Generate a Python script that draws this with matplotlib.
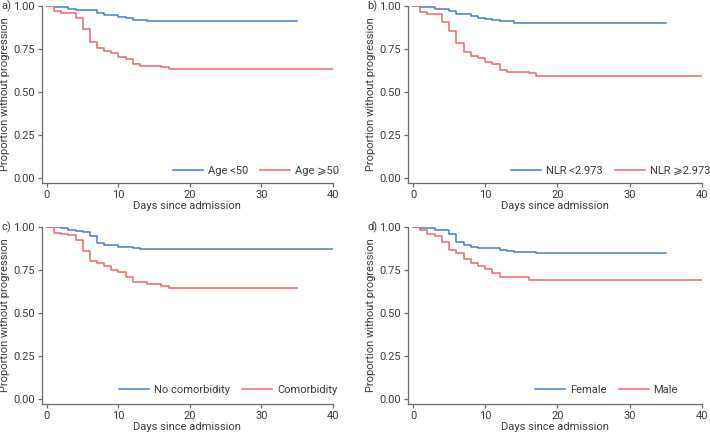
import matplotlib
matplotlib.use("Agg")
import matplotlib.pyplot as plt
from matplotlib import font_manager

# ---------------- data ----------------
# panel a) Age
a_lo_t = [0, 1, 3, 4, 7, 8, 10, 11, 12, 14, 35]
a_lo_s = [1.0, 0.992, 0.983, 0.975, 0.957, 0.946, 0.938, 0.930, 0.921, 0.911, 0.911]
a_hi_t = [0, 1, 2, 4, 5, 6, 7, 8, 9, 10, 11, 12, 13, 16, 17, 40]
a_hi_s = [1.0, 0.973, 0.957, 0.928, 0.864, 0.793, 0.758, 0.738, 0.725, 0.705, 0.690,
          0.661, 0.653, 0.643, 0.636, 0.636]
a_labels = ["Age <50", "Age \u2a7e50"]

# panel b) NLR
b_lo_t = [0, 1, 3, 5, 6, 8, 9, 10, 11, 12, 14, 35]
b_lo_s = [1.0, 0.992, 0.984, 0.969, 0.953, 0.944, 0.932, 0.924, 0.918, 0.911, 0.901, 0.901]
b_hi_t = [0, 1, 2, 4, 5, 6, 7, 8, 9, 10, 11, 12, 13, 16, 17, 40]
b_hi_s = [1.0, 0.967, 0.952, 0.909, 0.855, 0.783, 0.731, 0.709, 0.696, 0.676, 0.661,
          0.628, 0.618, 0.609, 0.596, 0.596]
b_labels = ["NLR <2.973", "NLR \u2a7e2.973"]

# panel c) Comorbidity
c_no_t = [0, 2, 3, 4, 5, 6, 7, 8, 10, 12, 13, 40]
c_no_s = [1.0, 0.992, 0.985, 0.979, 0.969, 0.948, 0.909, 0.898, 0.884, 0.876, 0.870, 0.870]
c_yes_t = [0, 1, 2, 3, 4, 5, 6, 7, 8, 9, 10, 11, 12, 14, 16, 17, 35]
c_yes_s = [1.0, 0.965, 0.957, 0.952, 0.925, 0.859, 0.803, 0.791, 0.772, 0.751, 0.737,
           0.712, 0.679, 0.670, 0.658, 0.647, 0.647]
c_labels = ["No comorbidity", "Comorbidity"]

# panel d) Sex
d_f_t = [0, 1, 3, 5, 6, 7, 8, 9, 12, 13, 14, 17, 35]
d_f_s = [1.0, 0.996, 0.985, 0.962, 0.915, 0.894, 0.885, 0.879, 0.869, 0.862, 0.855, 0.847, 0.847]
d_m_t = [0, 1, 2, 3, 4, 5, 6, 7, 8, 9, 10, 11, 12, 16, 40]
d_m_s = [1.0, 0.981, 0.958, 0.948, 0.915, 0.869, 0.848, 0.817, 0.794, 0.773, 0.754,
         0.734, 0.707, 0.690, 0.690]
d_labels = ["Female", "Male"]

panel_tags = ["a)", "b)", "c)", "d)"]
x_ticks = [0, 10, 20, 30, 40]
y_ticks = [0.0, 0.25, 0.5, 0.75, 1.0]
x_label = "Days since admission"
y_label = "Proportion without progression"

# ---------------- style ----------------
avail = {f.name for f in font_manager.fontManager.ttflist}
fam = "Liberation Sans Narrow" if "Liberation Sans Narrow" in avail else "Roboto"
plt.rcParams["font.family"] = [fam, "DejaVu Sans"]
fs = 8.6 if fam == "Liberation Sans Narrow" else 8

BLUE = "#4a7dbf"
RED = "#ee6868"
TXT = "#3a3a3a"
AX = "#6b6b6b"

W, H = 710, 436
fig = plt.figure(figsize=(W / 100, H / 100), dpi=100)

# pixel boxes: left, right, top, bottom
boxes = [
    (41.7, 333.0, 6.0, 182.7),
    (407.7, 701.7, 6.0, 182.7),
    (41.7, 333.0, 227.0, 404.0),
    (407.7, 701.7, 227.0, 404.0),
]
legend_cx = [0.736, 0.691, 0.641, 0.676]
legend_cy = [0.068, 0.068, 0.078, 0.078]

series = [
    (a_lo_t, a_lo_s, a_hi_t, a_hi_s, a_labels),
    (b_lo_t, b_lo_s, b_hi_t, b_hi_s, b_labels),
    (c_no_t, c_no_s, c_yes_t, c_yes_s, c_labels),
    (d_f_t, d_f_s, d_m_t, d_m_s, d_labels),
]

for i, ((l, r, t, b), (t1, s1, t2, s2, labs)) in enumerate(zip(boxes, series)):
    ax = fig.add_axes([l / W, 1 - b / H, (r - l) / W, (b - t) / H])
    ax.step(t1, s1, where="post", color=BLUE, lw=1.1, label=labs[0])
    ax.step(t2, s2, where="post", color=RED, lw=1.1, label=labs[1])
    ax.set_xlim(-0.74, 40)
    ax.set_ylim(-0.027, 1.0)
    ax.set_xticks(x_ticks)
    ax.set_yticks(y_ticks)
    ax.set_yticklabels([f"{v:.2f}" for v in y_ticks])
    for sp in ("top", "right"):
        ax.spines[sp].set_visible(False)
    for sp in ("left", "bottom"):
        ax.spines[sp].set_color(AX)
        ax.spines[sp].set_linewidth(0.9)
    ax.tick_params(axis="both", colors=AX, labelcolor=TXT, labelsize=fs,
                   length=3, width=0.9, pad=2)
    ax.set_xlabel(x_label, fontsize=fs, color=TXT, labelpad=1)
    ax.set_ylabel(y_label, fontsize=fs, color=TXT, labelpad=2)
    leg = ax.legend(loc="center", bbox_to_anchor=(legend_cx[i], legend_cy[i]),
                    ncol=2, frameon=False, fontsize=fs, handlelength=2.7,
                    handletextpad=0.45, columnspacing=1.1, borderaxespad=0,
                    borderpad=0)
    for txt in leg.get_texts():
        txt.set_color(TXT)
    fig.text((l - 41.7) / W + 0.0015, 1 - t / H, panel_tags[i], fontsize=fs,
             color=TXT, ha="left", va="center")

fig.savefig("out.png", dpi=100)
